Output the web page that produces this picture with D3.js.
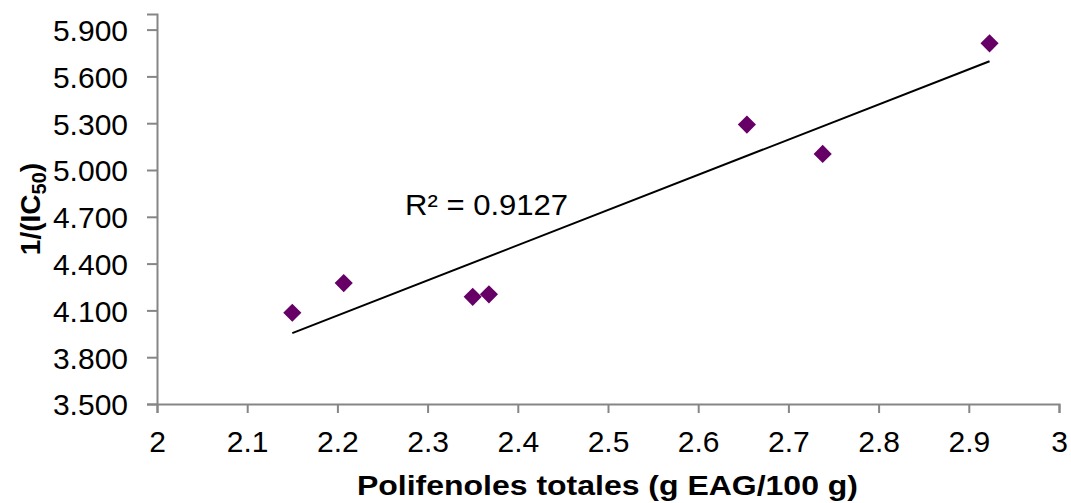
<!DOCTYPE html>
<html>
<head>
<meta charset="utf-8">
<script src="https://cdn.jsdelivr.net/npm/d3@7"></script>
<style>
  body { margin: 0; background: #fff; }
  text { font-family: "Liberation Sans", Arial, sans-serif; fill: #000; }
</style>
</head>
<body>
<div class="scatter"></div>
<script>
// data
const polifenoles = [2.150, 2.207, 2.350, 2.368, 2.654, 2.738, 2.923];
const inverseIC50 = [4.085, 4.275, 4.187, 4.203, 5.291, 5.103, 5.812];
const xTicks = [2, 2.1, 2.2, 2.3, 2.4, 2.5, 2.6, 2.7, 2.8, 2.9, 3];
const yTicks = [3.5, 3.8, 4.1, 4.4, 4.7, 5.0, 5.3, 5.6, 5.9];
const r2Label = "R² = 0.9127";

const margin = {top: 14, right: 12, bottom: 99, left: 157},
  width = 1071 - margin.left - margin.right,
  height = 503 - margin.top - margin.bottom;

const x = d3.scaleLinear().domain([2, 3]).range([0, width]);
const y = d3.scaleLinear().domain([3.5, 6.0]).range([height, 0]);

const svg = d3.select(".scatter").append("svg")
    .attr("width", 1071)
    .attr("height", 503)
  .append("g")
    .attr("transform", "translate(" + margin.left + "," + margin.top + ")");

const xAxis = d3.axisBottom(x).tickValues(xTicks).tickSize(9).tickPadding(12)
  .tickFormat(d => String(+d.toFixed(1)));
const yAxis = d3.axisLeft(y).tickValues(yTicks).tickSize(10).tickPadding(19)
  .tickFormat(d3.format(".3f"));

const gx = svg.append("g")
  .attr("transform", "translate(0," + height + ")")
  .call(xAxis);
const gy = svg.append("g").call(yAxis);

[gx, gy].forEach(g => {
  g.selectAll("path, line").attr("stroke", "#868686").attr("stroke-width", 2);
  g.selectAll("text").style("font-size", "30px").attr("fill", "#000");
});
gx.selectAll("text").attr("dy", "0.9em");
gy.selectAll("text").attr("dy", "0.36em");

// linear trendline
const data = polifenoles.map((v, i) => ({x: v, y: inverseIC50[i]}));
const mx = d3.mean(data, d => d.x), my = d3.mean(data, d => d.y);
const slope = d3.sum(data, d => (d.x - mx) * (d.y - my)) / d3.sum(data, d => (d.x - mx) ** 2);
const icpt = my - slope * mx;
const [x0, x1] = d3.extent(polifenoles);

svg.append("path")
  .datum([x0, x1])
  .attr("fill", "none")
  .attr("stroke", "#000")
  .attr("stroke-width", 2)
  .attr("d", d3.line().x(d => x(d)).y(d => y(icpt + slope * d)));

svg.selectAll(".pt")
  .data(data)
  .enter().append("path")
  .attr("class", "pt")
  .attr("d", d3.symbol().type(d3.symbolDiamond2).size(210))
  .attr("fill", "#660066")
  .attr("transform", d => "translate(" + x(d.x) + "," + y(d.y) + ")");

svg.append("text")
  .attr("x", x(2.275))
  .attr("y", y(4.7) - 2)
  .style("font-size", "29px")
  .attr("textLength", 163)
  .attr("lengthAdjust", "spacingAndGlyphs")
  .text(r2Label);

// axis titles
svg.append("text")
  .attr("x", 200)
  .attr("y", height + 91)
  .style("font-size", "27px")
  .style("font-weight", "bold")
  .attr("textLength", 501)
  .attr("lengthAdjust", "spacingAndGlyphs")
  .text("Polifenoles totales (g EAG/100 g)");

const yt = svg.append("text")
  .attr("transform", "translate(" + (-117) + "," + y(4.75) + ") rotate(-90)")
  .attr("text-anchor", "middle")
  .style("font-size", "28px")
  .style("font-weight", "bold");
yt.append("tspan").text("1/(IC");
yt.append("tspan").attr("dy", 6).style("font-size", "20px").text("50");
yt.append("tspan").attr("dy", -6).text(")");
</script>
</body>
</html>
